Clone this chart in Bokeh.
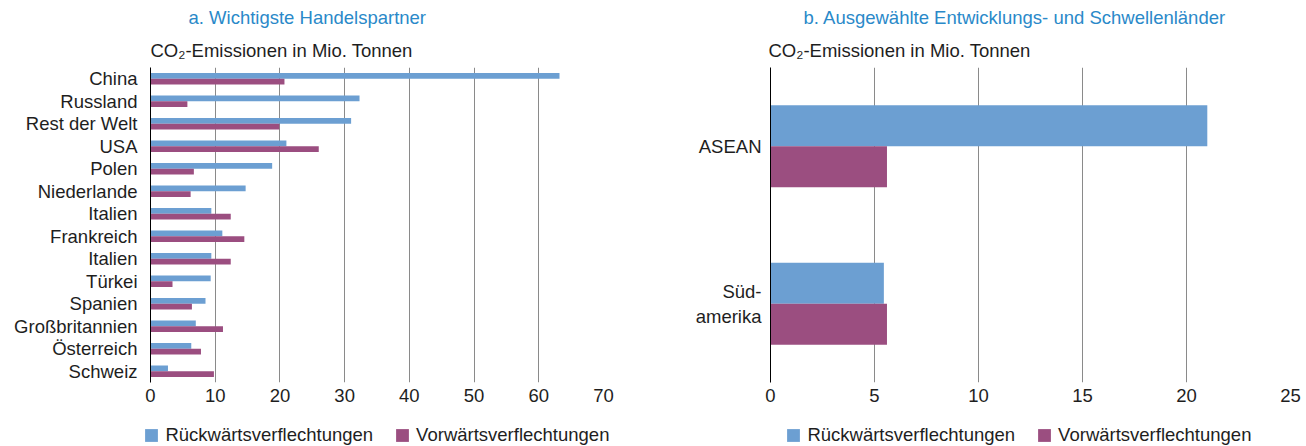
from bokeh.plotting import figure
from bokeh.models import Range1d, FixedTicker, Label, Legend, LegendItem, ColumnDataSource
from bokeh.transform import dodge
from bokeh.layouts import row, column
from bokeh.embed import file_html
from bokeh.resources import INLINE

# ---- data ----
partners = ["China", "Russland", "Rest der Welt", "USA", "Polen", "Niederlande", "Italien",
            "Frankreich", "Italien", "Türkei", "Spanien", "Großbritannien", "Österreich", "Schweiz"]
rueck_a = [63.2, 32.3, 31.0, 21.0, 18.8, 14.7, 9.4, 11.1, 9.4, 9.3, 8.5, 7.0, 6.3, 2.7]
vor_a = [20.7, 5.7, 19.9, 26.0, 6.7, 6.2, 12.4, 14.5, 12.4, 3.4, 6.4, 11.2, 7.8, 9.8]

regions = ["ASEAN", "Süd-\namerika"]
rueck_b = [21.0, 5.45]
vor_b = [5.6, 5.6]

ticks_a = [0, 10, 20, 30, 40, 50, 60, 70]
ticks_b = [0, 5, 10, 15, 20, 25]

title_a = "a. Wichtigste Handelspartner"
title_b = "b. Ausgewählte Entwicklungs- und Schwellenländer"
unit_label = "CO₂-Emissionen in Mio. Tonnen"
series_names = ["Rückwärtsverflechtungen", "Vorwärtsverflechtungen"]

BLUE = "#6c9fd2"
PURPLE = "#9b4e80"
TITLE_BLUE = "#2a89c9"
TEXT = "#1e1e1e"
GRID = "#8a8a8a"
FONT = "Liberation Sans"
FS = "18.5px"

TOP_H = 67      # title strip
MAIN_H = 348    # plot strip (frame 67..382 on the page)
LEG_H = 31      # legend strip
FRAME_H = 315


def blank(width, height):
    f = figure(width=width, height=height, output_backend="svg", toolbar_location=None,
               x_axis_type=None, y_axis_type=None, min_border=0,
               x_range=Range1d(0, 1), y_range=Range1d(0, 1))
    f.outline_line_color = None
    f.background_fill_color = "white"
    f.border_fill_color = "white"
    return f


def title_strip(width, title, title_x, unit_x):
    t = blank(width, TOP_H)
    t.add_layout(Label(x=title_x, y=TOP_H - 17, x_units="screen", y_units="screen",
                       text=title, text_baseline="middle", text_align="left",
                       text_font=FONT, text_font_size=FS, text_color=TITLE_BLUE))
    t.add_layout(Label(x=unit_x, y=TOP_H - 50, x_units="screen", y_units="screen",
                       text=unit_label, text_baseline="middle", text_align="left",
                       text_font=FONT, text_font_size=FS, text_color=TEXT))
    return t


def legend_strip(width, legend_x):
    l = blank(width, LEG_H)
    # zero-width proxy bars: they only supply the legend swatches
    proxy = ColumnDataSource(dict(y=[0], left=[0], right=[0]))
    d1 = l.hbar(y="y", left="left", right="right", height=0.5, source=proxy,
                fill_color=BLUE, line_color=None)
    d2 = l.hbar(y="y", left="left", right="right", height=0.5, source=proxy,
                fill_color=PURPLE, line_color=None)
    legend = Legend(items=[LegendItem(label=series_names[0], renderers=[d1]),
                           LegendItem(label=series_names[1], renderers=[d2])],
                    location=(legend_x, 0), orientation="horizontal",
                    border_line_color=None, background_fill_alpha=0,
                    padding=0, margin=0, spacing=21, label_standoff=6,
                    glyph_width=16, glyph_height=16,
                    label_text_font=FONT, label_text_font_size=FS,
                    label_text_color=TEXT)
    l.add_layout(legend)
    return l


def make_panel(cats, v1, v2, ticks, xmax, width, left, right, ylab_standoff):
    n = len(cats)
    idx = list(range(n))
    src = ColumnDataSource(dict(y=idx, r=v1, v=v2))
    p = figure(width=width, height=MAIN_H, output_backend="svg", toolbar_location=None,
               x_range=Range1d(0, xmax), y_range=Range1d(n - 0.5, -0.5),
               min_border_left=left, min_border_right=right,
               min_border_top=0, min_border_bottom=MAIN_H - FRAME_H)
    p.outline_line_color = None
    p.background_fill_color = "white"
    p.border_fill_color = "white"

    p.hbar(y=dodge("y", -0.13, range=p.y_range), right="r", left=0, height=0.26,
           source=src, fill_color=BLUE, line_color=None)
    p.hbar(y=dodge("y", 0.13, range=p.y_range), right="v", left=0, height=0.26,
           source=src, fill_color=PURPLE, line_color=None)

    xa = p.xaxis[0]
    xa.ticker = FixedTicker(ticks=ticks)
    xa.axis_line_color = None
    xa.major_tick_line_color = None
    xa.minor_tick_line_color = None
    xa.major_tick_out = 0
    xa.major_tick_in = 0
    xa.minor_tick_out = 0
    xa.major_label_standoff = 6
    xa.major_label_text_font = FONT
    xa.major_label_text_font_size = FS
    xa.major_label_text_color = TEXT

    ya = p.yaxis[0]
    ya.ticker = FixedTicker(ticks=idx)
    ya.major_label_overrides = {i: c for i, c in enumerate(cats)}
    ya.axis_line_color = "black"
    ya.axis_line_width = 1
    ya.major_tick_line_color = None
    ya.minor_tick_line_color = None
    ya.major_tick_out = 0
    ya.major_tick_in = 0
    ya.minor_tick_out = 0
    ya.major_label_standoff = ylab_standoff
    ya.major_label_text_font = FONT
    ya.major_label_text_font_size = FS
    ya.major_label_text_color = TEXT

    p.xgrid.ticker = FixedTicker(ticks=ticks)
    p.xgrid.grid_line_color = GRID
    p.xgrid.grid_line_width = 1
    p.ygrid.grid_line_color = None
    return p


W1, W2 = 660, 646
p1 = make_panel(partners, rueck_a, vor_a, ticks_a, 70, W1, 150, 57, 13)
p2 = make_panel(regions, rueck_b, vor_b, ticks_b, 25, W2, 110, 16, 9)

t1 = title_strip(W1, title_a, 188, 150)
t2 = title_strip(W2, title_b, 143, 108)
l1 = legend_strip(W1, 143.4)
l2 = legend_strip(W2, 125.4)

layout = column(row(t1, t2), row(p1, p2), row(l1, l2))
open("out.html", "w").write(file_html(layout, INLINE))
